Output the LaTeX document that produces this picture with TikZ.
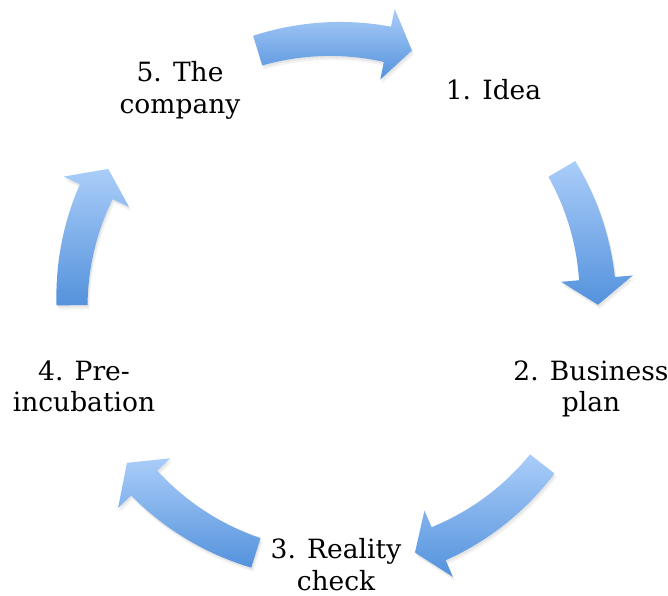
\documentclass[tikz,border=0pt]{standalone}
\usepackage{fontspec}
\setmainfont{DejaVu Serif}
\definecolor{arrtop}{RGB}{170,205,249}
\definecolor{arrbot}{RGB}{84,146,220}
% #1 tail angle, #2 head-base angle, #3 tip angle (centre 335,302; radius 263; y downwards)
\newcommand{\cyclepath}[3]{%
  plot[domain=#1:#2, samples=40, variable=\t]
   ({335+(278.5+2.5*(\t-(#1))/((#2)-(#1)))*cos(\t)}, {302-(278.5+2.5*(\t-(#1))/((#2)-(#1)))*sin(\t)})
  -- ({335+299*cos(#2)},{302-299*sin(#2)})
  -- ({335+263*cos(#3)},{302-263*sin(#3)})
  -- ({335+227*cos(#2)},{302-227*sin(#2)})
  -- plot[domain=#2:#1, samples=40, variable=\t]
   ({335+(247.5-2.5*(\t-(#1))/((#2)-(#1)))*cos(\t)}, {302-(247.5-2.5*(\t-(#1))/((#2)-(#1)))*sin(\t)})
  -- cycle}
\newcommand{\cyclearrow}[3]{%
  \fill[black, opacity=0.05, shift={(1,2)}] \cyclepath{#1}{#2}{#3};
  \fill[black, opacity=0.05, shift={(2,4)}] \cyclepath{#1}{#2}{#3};
  \shade[top color=arrtop, bottom color=arrbot] \cyclepath{#1}{#2}{#3};
}
\begin{document}
\begin{tikzpicture}[x=1pt,y=-1pt,
  lbl/.style={font=\fontsize{26.5}{31.5}\selectfont, align=center, anchor=base, inner sep=0pt, text=black}]
\useasboundingbox (0,0) rectangle (668,595);
\fill[white] (0,0) rectangle (668,595);
\cyclearrow{107.1}{78.5}{73.0}
\cyclearrow{30.4}{5.1}{-0.6}
\cyclearrow{-38.0}{-66.8}{-72.3}
\cyclearrow{-107.5}{-136.5}{-142.3}
\cyclearrow{180.7}{155.2}{149.6}
\node[lbl] (n1) at (493.5,99.3) {1. Idea};
\node[lbl] (n2) at (591,411.7) {2. Business\\plan};
\node[lbl] (n3) at (336,590) {3. Reality\\check};
\node[lbl] (n4) at (84,411.7) {4. Pre-\\incubation};
\node[lbl] (n5) at (180,113.3) {5. The\\company};
\end{tikzpicture}
\end{document}
